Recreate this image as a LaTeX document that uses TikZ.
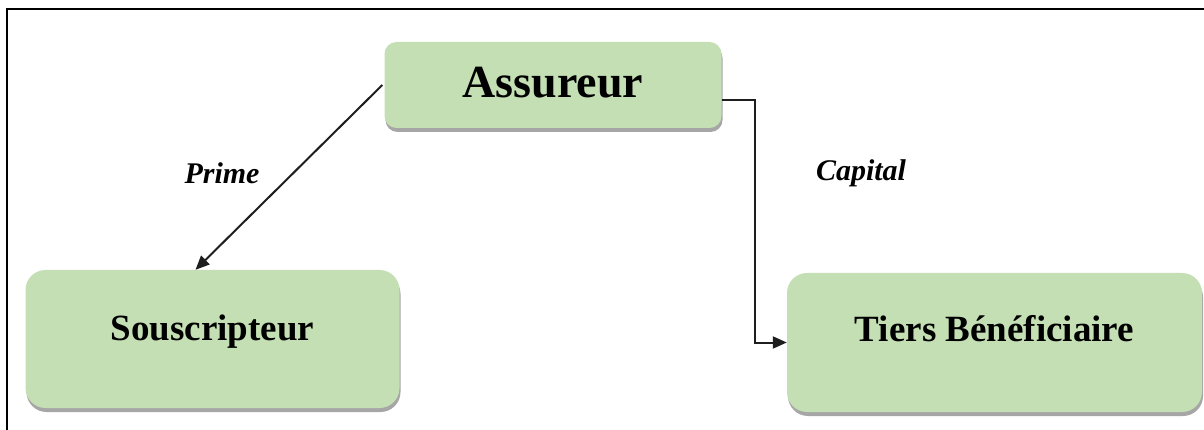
\documentclass[tikz,border=0pt]{standalone}
\usepackage{fontspec}
\setmainfont{Liberation Serif}
\usetikzlibrary{shadows,arrows.meta}
\definecolor{boxgreen}{RGB}{196,223,179}
\definecolor{linegray}{RGB}{30,30,30}
\tikzset{
  box/.style={draw=none, fill=boxgreen, rounded corners=#1,
    drop shadow={shadow xshift=1pt, shadow yshift=-4pt, fill=gray!70, opacity=1}},
  lbl/.style={font=\bfseries, inner sep=0pt},
  arrowlbl/.style={font=\bfseries\itshape\fontsize{30}{36}\selectfont, inner sep=0pt},
  conn/.style={draw=linegray, line width=2pt, -{Triangle[length=14pt,width=12pt]}},
}
\begin{document}
\begin{tikzpicture}[x=1pt,y=-1pt]
\useasboundingbox (0,0) rectangle (1204,430);
\fill[white] (0,0) rectangle (1204,430);
% frame
\draw[line width=2.6pt, black] (7,432) -- (7,9) -- (1206,9);
% boxes
\node[box=12pt, minimum width=337pt, minimum height=86pt, inner sep=0pt] (assur) at (553,85) {};
\node[box=20pt, minimum width=374pt, minimum height=138pt, inner sep=0pt] (sous) at (212.5,339) {};
\node[box=20pt, minimum width=415pt, minimum height=139pt, inner sep=0pt] (tiers) at (994.5,342.5) {};
% texts
\node[lbl, font=\bfseries\fontsize{46}{52}\selectfont] (assurT) at ([yshift=2pt]assur.center) {Assureur};
\node[lbl, font=\bfseries\fontsize{37}{44}\selectfont] (sousT) at ([yshift=7pt]sous.center) {Souscripteur};
\node[lbl, font=\bfseries\fontsize{37}{44}\selectfont] (tiersT) at ([yshift=14pt]tiers.center) {Tiers Bénéficiaire};
% connectors
\coordinate (pstart) at ([xshift=-2pt]assur.west);
\coordinate (ptip) at ([xshift=-17pt]sous.north);
\draw[conn] (pstart) -- (ptip);
\coordinate (cstart) at ([yshift=-15pt]assur.east);
\draw[conn] (cstart) -- ++(33,0) |- (tiers.west);
% labels
\node[arrowlbl] (prime) at (222,173) {Prime};
\node[arrowlbl] (capital) at (861,173) {Capital};
\end{tikzpicture}
\end{document}
